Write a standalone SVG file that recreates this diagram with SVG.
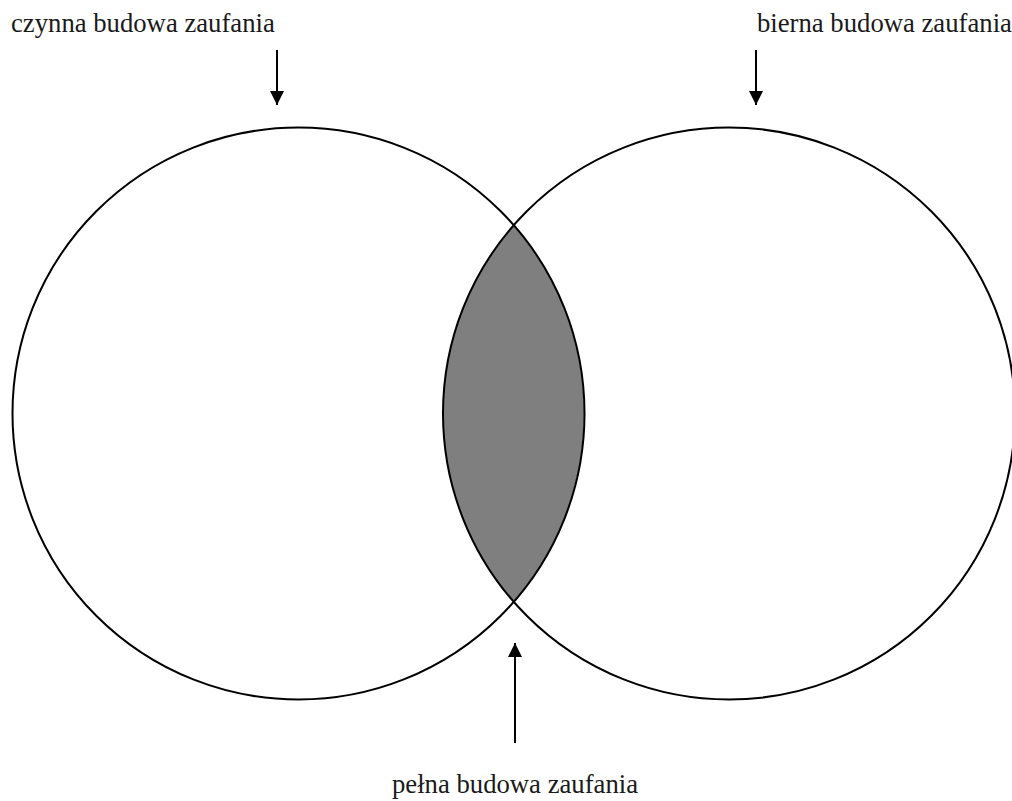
<svg xmlns="http://www.w3.org/2000/svg" width="1012" height="801" viewBox="0 0 1012 801">
<style>
.c{fill:none;stroke:#000;stroke-width:2}
.t{font-family:"Liberation Serif","Times New Roman",serif;font-size:26.7px;fill:#1a1a1a}
.a{stroke:#000;stroke-width:2;fill:none}
</style>
<defs>
<marker id="ah" viewBox="0 0 10 10" refX="10" refY="5" markerWidth="14" markerHeight="14" markerUnits="userSpaceOnUse" orient="auto">
<path d="M0,0 L10,5 L0,10 Z" fill="#000"/>
</marker>
</defs>
<g id="lens">
<path d="M513.5,225.5 A286,286 0 0 1 513.5,601.5 A286,286 0 0 1 513.5,225.5 Z" fill="#7f7f7f"/>
</g>
<g id="left-circle"><circle class="c" cx="298.5" cy="413.5" r="286"/></g>
<g id="right-circle"><circle class="c" cx="729" cy="413.5" r="286"/></g>
<g id="label-czynna"><text class="t" x="11" y="32">czynna budowa zaufania</text></g>
<g id="label-bierna"><text class="t" x="757" y="32">bierna budowa zaufania</text></g>
<g id="label-pelna"><text class="t" x="392" y="793">pełna budowa zaufania</text></g>
<g id="connectors">
<line class="a" x1="277" y1="50" x2="277" y2="105" marker-end="url(#ah)"/>
<line class="a" x1="756" y1="50" x2="756" y2="105" marker-end="url(#ah)"/>
<line class="a" x1="515" y1="743" x2="515" y2="643" marker-end="url(#ah)"/>
</g>
</svg>
